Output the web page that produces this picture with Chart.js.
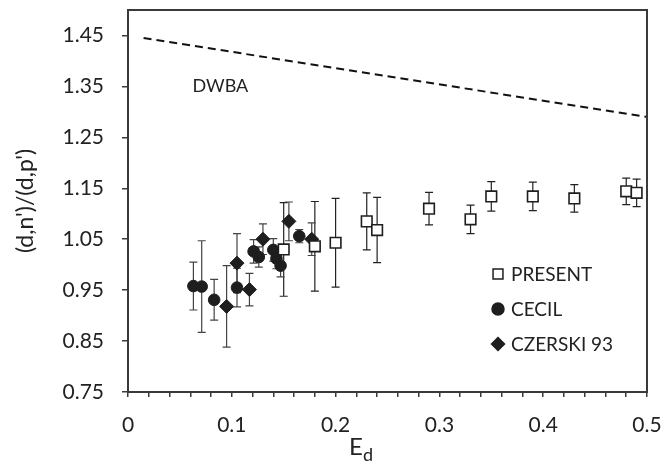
<!DOCTYPE html>
<html lang="en">
  <head>
    <meta charset="utf-8" />
    <script src="https://cdn.jsdelivr.net/npm/chart.js"></script>
    <style>
      html,
      body {
        margin: 0;
        padding: 0;
        background: #fff;
      }
      .canvas {
        width: 661px;
        height: 462px;
      }
    </style>
    <title>(d,n')/(d,p') ratio</title>
  </head>

  <body>
    <div class="canvas">
      <canvas id="myChart" width="661" height="462"></canvas>
    </div>

    <script>
      // PRESENT (open squares)
      const presentX = [0.15, 0.18, 0.2, 0.23, 0.24, 0.29, 0.33, 0.35, 0.39, 0.43, 0.48, 0.49];
      const presentY = [1.03, 1.036, 1.043, 1.085, 1.068, 1.11, 1.089, 1.134, 1.134, 1.13, 1.144, 1.141];
      const presentErr = [0.092, 0.088, 0.087, 0.056, 0.064, 0.032, 0.028, 0.029, 0.028, 0.027, 0.026, 0.027];

      // CECIL (filled circles)
      const cecilX = [0.063, 0.071, 0.083, 0.105, 0.121, 0.126, 0.14, 0.143, 0.147, 0.165];
      const cecilY = [0.958, 0.957, 0.931, 0.955, 1.026, 1.015, 1.029, 1.012, 0.998, 1.056];
      const cecilErr = [0.047, 0.09, 0.04, 0.038, 0.023, 0.02, 0.022, 0.02, 0.022, 0.013];

      // CZERSKI 93 (filled diamonds)
      const czerskiX = [0.095, 0.105, 0.117, 0.13, 0.155, 0.177];
      const czerskiY = [0.918, 1.003, 0.951, 1.05, 1.085, 1.05];
      const czerskiErr = [0.08, 0.058, 0.032, 0.03, 0.038, 0.032];

      // DWBA curve (dashed)
      const dwbaX = [0.015, 0.5];
      const dwbaY = [1.445, 1.29];

      // axes
      const xMajorTicks = [0, 0.1, 0.2, 0.3, 0.4, 0.5];
      const xAllTicks = [
        0, 0.02, 0.04, 0.06, 0.08, 0.1, 0.12, 0.14, 0.16, 0.18, 0.2, 0.22, 0.24,
        0.26, 0.28, 0.3, 0.32, 0.34, 0.36, 0.38, 0.4, 0.42, 0.44, 0.46, 0.48, 0.5,
      ];
      const yTicks = [0.75, 0.85, 0.95, 1.05, 1.15, 1.25, 1.35, 1.45];

      const FONT = "Lato, 'Open Sans', sans-serif";
      const INK = "#1e1e1e";
      const AXIS = "#3a3a3a";

      function toPoints(xs, ys) {
        return xs.map((x, i) => ({ x: x, y: ys[i] }));
      }

      // 誤差棒
      const errorBars = {
        id: "errorBars",
        beforeDatasetsDraw(chart) {
          const ctx = chart.ctx;
          const xs = chart.scales.x;
          const ys = chart.scales.y;
          ctx.save();
          chart.data.datasets.forEach((ds) => {
            if (!ds.errors) return;
            ctx.strokeStyle = ds.errorColor || "#333";
            ctx.lineWidth = 1.2;
            ds.data.forEach((p, i) => {
              const e = ds.errors[i];
              const px = xs.getPixelForValue(p.x);
              const top = ys.getPixelForValue(p.y + e);
              const bot = ys.getPixelForValue(p.y - e);
              ctx.beginPath();
              ctx.moveTo(px, top);
              ctx.lineTo(px, bot);
              ctx.moveTo(px - 4, top);
              ctx.lineTo(px + 4, top);
              ctx.moveTo(px - 4, bot);
              ctx.lineTo(px + 4, bot);
              ctx.stroke();
            });
          });
          ctx.restore();
        },
      };

      // 枠、凡例、ラベル
      const decorations = {
        id: "decorations",
        afterDraw(chart) {
          const ctx = chart.ctx;
          const a = chart.chartArea;
          const xs = chart.scales.x;
          const ys = chart.scales.y;
          ctx.save();

          // frame
          ctx.strokeStyle = AXIS;
          ctx.lineWidth = 2;
          ctx.strokeRect(a.left, a.top, a.right - a.left, a.bottom - a.top);

          // DWBA label
          ctx.fillStyle = "#222";
          ctx.font = "18px " + FONT;
          ctx.textAlign = "center";
          ctx.textBaseline = "middle";
          ctx.fillText("DWBA", xs.getPixelForValue(0.089), ys.getPixelForValue(1.35));

          // x title with subscript
          ctx.textAlign = "left";
          ctx.textBaseline = "alphabetic";
          ctx.font = "24px " + FONT;
          ctx.fillText("E", 349, 455);
          ctx.font = "18px " + FONT;
          ctx.fillText("d", 363, 461);

          // legend
          const items = [
            { label: "PRESENT", style: "rect", r: 7, fill: "#fff" },
            { label: "CECIL", style: "circle", r: 6, fill: INK },
            { label: "CZERSKI 93", style: "rectRot", r: 6.5, fill: INK },
          ];
          const rows = [274, 309, 344];
          ctx.font = "19px " + FONT;
          ctx.textBaseline = "middle";
          items.forEach((it, i) => {
            ctx.fillStyle = it.fill;
            ctx.strokeStyle = INK;
            ctx.lineWidth = 1.5;
            Chart.helpers.drawPoint(ctx, { pointStyle: it.style, radius: it.r, borderWidth: 1.5 }, 498, rows[i]);
            ctx.fillStyle = "#222";
            ctx.fillText(it.label, 511, rows[i] + 1);
          });
          ctx.restore();
        },
      };

      const ctx = document.getElementById("myChart");
      window.myChart = new Chart(ctx, {
        type: "scatter",
        plugins: [errorBars, decorations],
        data: {
          datasets: [
            {
              label: "DWBA",
              data: toPoints(dwbaX, dwbaY),
              showLine: true,
              borderColor: "#111",
              borderWidth: 2,
              borderDash: [8, 5],
              pointRadius: 0,
              fill: false,
            },
            {
              label: "PRESENT",
              data: toPoints(presentX, presentY),
              errors: presentErr,
              errorColor: "#222",
              pointStyle: "rect",
              pointRadius: 7.5,
              pointBackgroundColor: "#fff",
              pointBorderColor: INK,
              pointBorderWidth: 1.6,
            },
            {
              label: "CZERSKI 93",
              data: toPoints(czerskiX, czerskiY),
              errors: czerskiErr,
              errorColor: "#444",
              pointStyle: "rectRot",
              pointRadius: 7,
              pointBackgroundColor: INK,
              pointBorderColor: INK,
              pointBorderWidth: 1,
            },
            {
              label: "CECIL",
              data: toPoints(cecilX, cecilY),
              errors: cecilErr,
              errorColor: "#444",
              pointStyle: "circle",
              pointRadius: 5.8,
              pointBackgroundColor: INK,
              pointBorderColor: INK,
              pointBorderWidth: 1,
            },
          ],
        },
        options: {
          responsive: false,
          animation: false,
          layout: { padding: { top: 10, right: 14, left: 0, bottom: 0 } },
          plugins: {
            legend: { display: false },
            tooltip: { enabled: false },
          },
          scales: {
            x: {
              type: "linear",
              min: 0,
              max: 0.5,
              afterBuildTicks: (scale) => {
                scale.ticks = xAllTicks.map((v) => ({ value: v }));
              },
              afterFit: (scale) => {
                scale.height = 70;
                scale.paddingLeft = 0;
                scale.paddingRight = 0;
              },
              grid: {
                drawOnChartArea: false,
                drawTicks: true,
                tickLength: 5,
                color: AXIS,
                lineWidth: 1.5,
              },
              border: { display: true, color: AXIS, width: 2 },
              ticks: {
                autoSkip: false,
                maxRotation: 0,
                padding: 16,
                color: "#222",
                font: { family: FONT, size: 21 },
                callback: (v) => {
                  const m = xMajorTicks.find((t) => Math.abs(t - v) < 1e-9);
                  return m === undefined ? "" : String(m);
                },
              },
            },
            y: {
              type: "linear",
              min: 0.75,
              max: 1.5,
              afterBuildTicks: (scale) => {
                scale.ticks = yTicks.map((v) => ({ value: v }));
              },
              afterFit: (scale) => {
                scale.width = 128;
                scale.paddingTop = 0;
                scale.paddingBottom = 0;
              },
              grid: {
                drawOnChartArea: false,
                drawTicks: true,
                tickLength: 6,
                color: AXIS,
                lineWidth: 1.5,
              },
              border: { display: true, color: AXIS, width: 2 },
              ticks: {
                padding: 18,
                color: "#222",
                font: { family: FONT, size: 21 },
                callback: (v) => Number(v).toFixed(2),
              },
              title: {
                display: true,
                text: "(d,n')/(d,p')",
                color: "#222",
                font: { family: FONT, size: 23 },
                padding: { top: 12, bottom: 0 },
              },
            },
          },
        },
      });
    </script>
  </body>
</html>
